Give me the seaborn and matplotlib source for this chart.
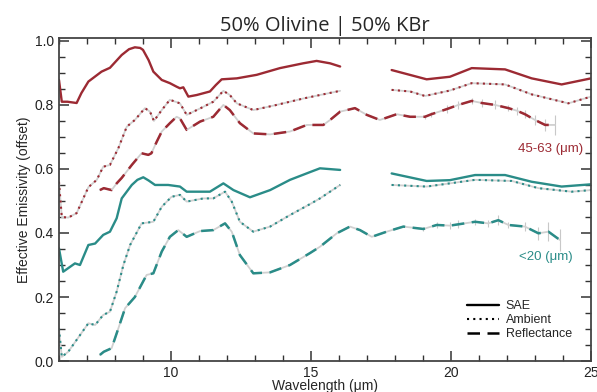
import numpy as np
import seaborn as sns
import matplotlib.pyplot as plt
from matplotlib.lines import Line2D
from matplotlib.ticker import MultipleLocator

# 45-63 um grain size (red)
red_sae_x1 = [6.0, 6.1, 6.3, 6.63, 6.8, 7.05, 7.52, 7.82, 8.24, 8.5, 8.71, 8.9, 9.0, 9.2, 9.37,
              9.67, 9.96, 10.2, 10.32, 10.44, 10.62, 10.92, 11.39, 11.6, 11.81, 12.35, 13.06,
              13.89, 14.72, 15.2, 15.68, 16.04]
red_sae_y1 = [0.878, 0.81, 0.81, 0.806, 0.837, 0.873, 0.904, 0.916, 0.956, 0.974, 0.98, 0.978,
              0.972, 0.94, 0.904, 0.878, 0.868, 0.857, 0.852, 0.855, 0.826, 0.831, 0.842, 0.862,
              0.88, 0.883, 0.894, 0.915, 0.930, 0.9375, 0.93, 0.92]
red_sae_x2 = [17.88, 19.13, 19.96, 20.74, 21.93, 22.88, 23.95, 25.0]
red_sae_y2 = [0.909, 0.88, 0.888, 0.915, 0.911, 0.883, 0.864, 0.883]

red_amb_x1 = [6.0, 6.1, 6.33, 6.63, 7.05, 7.35, 7.58, 7.82, 8.12, 8.42, 8.71, 9.07, 9.25, 9.39,
              9.67, 9.96, 10.32, 10.56, 11.04, 11.51, 11.87, 12.1, 12.35, 12.94, 13.77, 14.72,
              15.32, 16.04]
red_amb_y1 = [0.56, 0.45, 0.448, 0.462, 0.543, 0.566, 0.607, 0.6125, 0.665, 0.732, 0.753, 0.79,
              0.779, 0.75, 0.784, 0.816, 0.805, 0.769, 0.789, 0.81, 0.844, 0.831, 0.805, 0.784,
              0.8, 0.82, 0.831, 0.844]
red_amb_x2 = [17.88, 18.54, 19.07, 19.96, 20.74, 21.93, 22.88, 24.19, 25.0]
red_amb_y2 = [0.847, 0.842, 0.828, 0.845, 0.868, 0.864, 0.833, 0.805, 0.826]

red_ref_x = [7.46, 7.6, 7.88, 8.06, 8.24, 8.6, 8.95, 9.19, 9.3, 9.49, 9.67, 9.96, 10.2, 10.32,
             10.56, 11.04, 11.51, 11.87, 12.1, 12.46, 12.94, 13.54, 14.25, 14.85, 15.44, 15.68,
             16.04, 16.57, 16.99, 17.46, 18.06, 18.54, 19.07, 19.3, 19.85, 20.26, 20.74, 21.1,
             21.57, 22.05, 22.35, 22.64, 23.0, 23.36, 23.71]
red_ref_y = [0.534, 0.54, 0.534, 0.555, 0.572, 0.6125, 0.649, 0.644, 0.649, 0.685, 0.717, 0.743,
             0.763, 0.758, 0.722, 0.748, 0.763, 0.8, 0.784, 0.743, 0.711, 0.708, 0.717, 0.7375,
             0.7375, 0.753, 0.779, 0.79, 0.769, 0.753, 0.771, 0.763, 0.763, 0.771, 0.787, 0.8,
             0.8125, 0.806, 0.8, 0.79, 0.782, 0.771, 0.753, 0.7375, 0.7375]
red_ref_err = [0] * 32 + [0.006, 0.008, 0.012, 0.012, 0.01, 0.012, 0.014, 0.01, 0.013, 0.012,
                          0.015, 0.02, 0.03]

# <20 um grain size (teal)
teal_sae_x1 = [6.0, 6.15, 6.57, 6.75, 7.05, 7.29, 7.58, 7.82, 8.06, 8.24, 8.6, 8.8, 9.01, 9.2,
               9.43, 9.9, 10.32, 10.56, 11.39, 11.87, 12.23, 12.82, 13.54, 14.25, 14.96, 15.32,
               16.04]
teal_sae_y1 = [0.352, 0.279, 0.305, 0.3, 0.3625, 0.367, 0.394, 0.404, 0.446, 0.508, 0.55, 0.566,
               0.574, 0.564, 0.55, 0.55, 0.545, 0.529, 0.529, 0.555, 0.534, 0.5115, 0.534, 0.566,
               0.59, 0.602, 0.597]
teal_sae_x2 = [17.88, 19.13, 19.96, 20.86, 21.93, 22.88, 23.95, 25.0]
teal_sae_y2 = [0.586, 0.5625, 0.565, 0.581, 0.581, 0.56, 0.545, 0.552]

teal_amb_x1 = [6.0, 6.1, 6.33, 6.63, 7.05, 7.29, 7.58, 7.82, 8.06, 8.3, 8.54, 8.95, 9.37, 9.67,
               10.02, 10.32, 10.56, 11.16, 11.51, 11.93, 12.17, 12.46, 12.94, 13.54, 14.25,
               14.96, 15.32, 16.04]
teal_amb_y1 = [0.102, 0.013, 0.029, 0.066, 0.118, 0.1125, 0.144, 0.154, 0.217, 0.3, 0.3625,
               0.43, 0.435, 0.482, 0.513, 0.519, 0.498, 0.508, 0.508, 0.529, 0.498, 0.435, 0.404,
               0.42, 0.456, 0.49, 0.508, 0.55]
teal_amb_x2 = [17.88, 19.13, 19.96, 20.86, 22.17, 23.12, 24.31, 25.0]
teal_amb_y2 = [0.55, 0.545, 0.555, 0.566, 0.5625, 0.54, 0.529, 0.534]

teal_ref_x = [7.46, 7.6, 7.88, 8.12, 8.36, 8.71, 9.13, 9.37, 9.67, 9.96, 10.26, 10.56, 11.04,
              11.51, 11.93, 12.17, 12.46, 12.94, 13.54, 14.25, 14.96, 15.32, 15.92, 16.39, 16.75,
              17.17, 17.7, 18.3, 19.01, 19.49, 19.96, 20.26, 20.86, 21.33, 21.69, 22.05, 22.64,
              23.12, 23.48, 23.89]
teal_ref_y = [0.019, 0.029, 0.04, 0.102, 0.165, 0.2, 0.269, 0.274, 0.342, 0.388, 0.409, 0.388,
              0.406, 0.409, 0.43, 0.404, 0.331, 0.274, 0.277, 0.3, 0.337, 0.357, 0.399, 0.42,
              0.409, 0.388, 0.404, 0.42, 0.4125, 0.425, 0.423, 0.427, 0.435, 0.43, 0.44, 0.425,
              0.42, 0.399, 0.404, 0.378]
teal_ref_err = [0] * 28 + [0.006, 0.01, 0.012, 0.012, 0.01, 0.012, 0.015, 0.01, 0.014, 0.02,
                           0.03, 0.035]

RED = '#9c2a33'
TEAL = '#2a8c88'
DOT = (0, (1, 2))
DASH = (0, (5, 3))

sns.set_style('ticks')
plt.rcParams['font.family'] = ['Liberation Sans', 'DejaVu Sans']

fig = plt.figure(figsize=(5.97, 3.92), dpi=100)
ax = fig.add_axes([0.0988, 0.079, 0.8912, 0.824])


def draw(x, y, color, ls, lw, under=False):
    if under:
        sns.lineplot(x=x, y=y, color='#d0d0d0', lw=1.3, sort=False, estimator=None, ax=ax)
    sns.lineplot(x=x, y=y, color=color, lw=lw, linestyle=ls, sort=False, estimator=None,
                 solid_joinstyle='round', ax=ax)


for col, sx1, sy1, sx2, sy2, ax1, ay1, ax2, ay2, rx, ry, re in [
        (RED, red_sae_x1, red_sae_y1, red_sae_x2, red_sae_y2, red_amb_x1, red_amb_y1,
         red_amb_x2, red_amb_y2, red_ref_x, red_ref_y, red_ref_err),
        (TEAL, teal_sae_x1, teal_sae_y1, teal_sae_x2, teal_sae_y2, teal_amb_x1, teal_amb_y1,
         teal_amb_x2, teal_amb_y2, teal_ref_x, teal_ref_y, teal_ref_err)]:
    rx, ry, re = np.array(rx), np.array(ry), np.array(re)
    m = re > 0
    ax.vlines(rx[m], ry[m] - re[m], ry[m] + re[m], color='#c8c8c8', lw=0.8, zorder=1)
    draw(sx1, sy1, col, '-', 1.7)
    draw(sx2, sy2, col, '-', 1.7)
    draw(ax1, ay1, col, DOT, 1.5, under=True)
    draw(ax2, ay2, col, DOT, 1.5, under=True)
    draw(rx, ry, col, DASH, 1.8, under=True)

ax.set_xlim(6, 25)
ax.set_ylim(0, 1.009)
ax.xaxis.set_major_locator(MultipleLocator(5))
ax.xaxis.set_minor_locator(MultipleLocator(1))
ax.yaxis.set_major_locator(MultipleLocator(0.2))
ax.yaxis.set_minor_locator(MultipleLocator(0.05))
ax.yaxis.set_major_formatter(plt.FuncFormatter(lambda v, p: f'{v:.1f}'))
ax.tick_params(which='both', direction='in', top=True, right=True, colors='#333333',
               labelcolor='#222222', labelsize=10)
ax.tick_params(which='major', length=7, width=1.1)
ax.tick_params(which='minor', length=4, width=1.0)
for s in ax.spines.values():
    s.set_visible(True)
    s.set_color('#444444')
    s.set_linewidth(1.3)

ax.set_title('50% Olivine | 50% KBr', fontsize=14.5, family=['Open Sans', 'DejaVu Sans'], pad=5)
ax.set_xlabel('Wavelength (μm)', fontsize=10)
ax.xaxis.set_label_coords(0.5, -0.056)
ax.set_ylabel('Effective Emissivity (offset)', fontsize=10)
ax.yaxis.set_label_coords(-0.053, 0.5)

ax.text(24.72, 0.6625, '45-63 (μm)', color=RED, ha='right', va='center', fontsize=9.5)
ax.text(24.35, 0.325, '<20 (μm)', color=TEAL, ha='right', va='center', fontsize=9.5)

handles = [Line2D([], [], color='black', lw=1.7, ls='-'),
           Line2D([], [], color='black', lw=1.5, ls=DOT),
           Line2D([], [], color='black', lw=1.8, ls=DASH)]
ax.legend(handles, ['SAE', 'Ambient', 'Reflectance'], loc='lower right',
          bbox_to_anchor=(0.985, 0.03), frameon=False, fontsize=9, handlelength=2.6,
          handletextpad=0.5, labelspacing=0.15)

fig.savefig('out.png', dpi=100)
